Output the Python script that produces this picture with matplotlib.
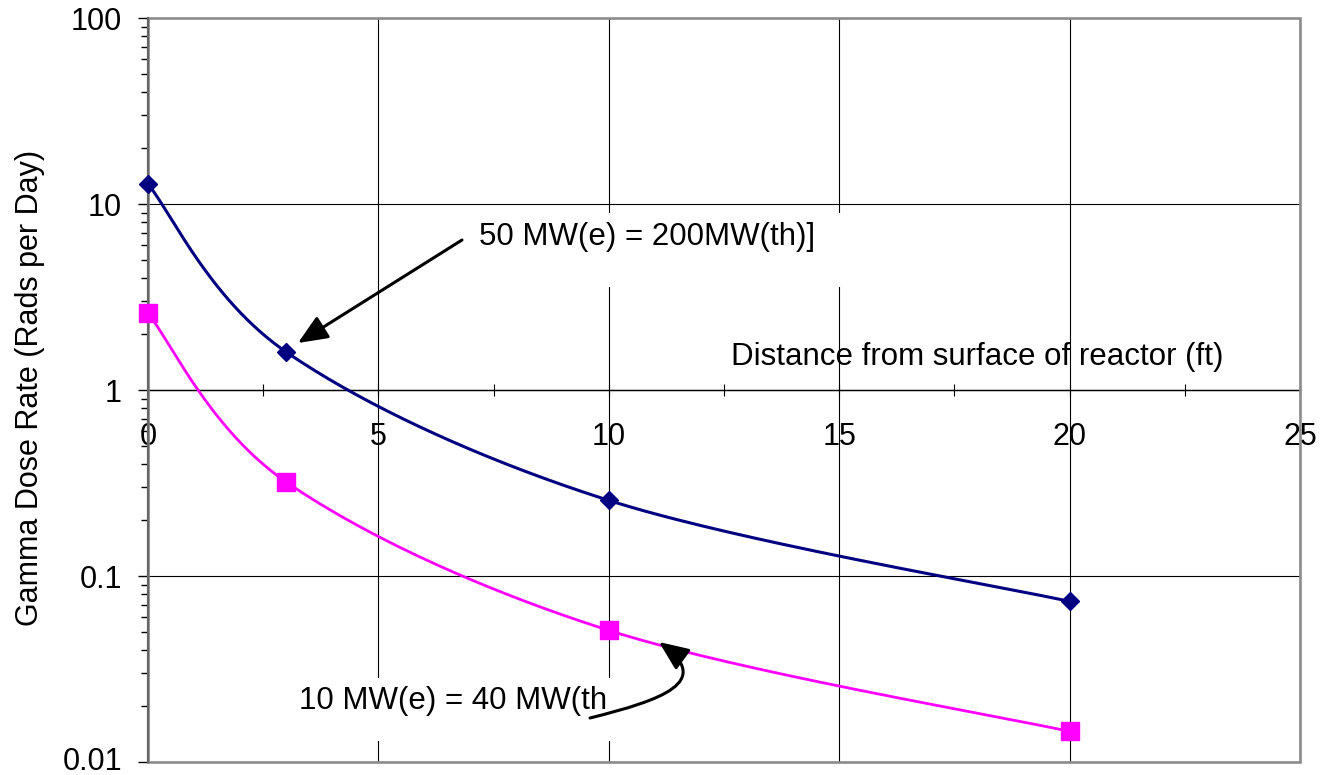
import numpy as np
import matplotlib
matplotlib.use("Agg")
import matplotlib.pyplot as plt
from matplotlib.patches import Rectangle, FancyArrowPatch
from matplotlib.path import Path
from matplotlib.transforms import ScaledTranslation
from matplotlib.ticker import MultipleLocator, LogLocator, FixedLocator, FixedFormatter

plt.rcParams['font.family'] = ['Liberation Sans', 'DejaVu Sans']

# ---- data ----
distance_ft = [0, 3, 10, 20]
dose_50mwe = [12.8, 1.6, 0.255, 0.073]     # 50 MW(e) = 200 MW(th)
dose_10mwe = [2.58, 0.32, 0.051, 0.0146]   # 10 MW(e) = 40 MW(th)
x_ticks = [0, 5, 10, 15, 20, 25]
y_ticks = [0.01, 0.1, 1, 10, 100]
y_tick_labels = ["0.01", "0.1", "1", "10", "100"]
label_50 = "50 MW(e) = 200MW(th)]"
label_10 = "10 MW(e) = 40 MW(th"
x_title = "Distance from surface of reactor (ft)"
y_title = "Gamma Dose Rate (Rads per Day)"

NAVY = "#000080"
MAGENTA = "#FF00FF"
FS_TICK = 22
FS_TEXT = 22.5
FS_YLAB = 22

W, H = 1329, 775
L, R, T, B = 148, 1300, 18, 762


def px2ax(x, y):
    return ((x - L) / (R - L), (B - y) / (B - T))


def excel_smooth(xs, ys, n=60):
    """Excel-style smoothed line (cardinal Bezier) in x / log10(y) space."""
    p = np.column_stack([np.asarray(xs, float), np.log10(ys)])
    out = []
    m = len(p)
    t = np.linspace(0, 1, n)[:, None]
    for i in range(m - 1):
        p0, p3 = p[i], p[i + 1]
        pm = p[i - 1] if i > 0 else p[i]
        pp = p[i + 2] if i + 2 < m else p[i + 1]
        c1 = p0 + (p3 - pm) / 6.0
        c2 = p3 - (pp - p0) / 6.0
        seg = ((1 - t) ** 3) * p0 + 3 * ((1 - t) ** 2) * t * c1 + 3 * (1 - t) * t ** 2 * c2 + t ** 3 * p3
        out.append(seg if i == 0 else seg[1:])
    arr = np.vstack(out)
    return arr[:, 0], 10 ** arr[:, 1]


fig = plt.figure(figsize=(W / 100, H / 100), dpi=100)
ax = fig.add_axes([L / W, 1 - B / H, (R - L) / W, (B - T) / H])

ax.set_yscale('log')
ax.set_xlim(0, 25)
ax.set_ylim(0.01, 100)

# grid / ticks
ax.xaxis.set_major_locator(FixedLocator(x_ticks))
ax.xaxis.set_minor_locator(MultipleLocator(2.5))
ax.yaxis.set_major_locator(FixedLocator(y_ticks))
ax.yaxis.set_major_formatter(FixedFormatter(y_tick_labels))
ax.yaxis.set_minor_locator(LogLocator(base=10, subs=np.arange(2, 10)))
ax.yaxis.set_minor_formatter(plt.NullFormatter())
ax.grid(True, which='major', color='black', lw=0.8, zorder=0.5)
ax.set_axisbelow(True)

# spines
for s in ['top', 'right']:
    ax.spines[s].set_visible(False)
ax.spines['bottom'].set_position(('data', 1))
ax.spines['bottom'].set_color('black')
ax.spines['bottom'].set_linewidth(1.0)
ax.spines['bottom'].set_zorder(2)
ax.spines['left'].set_color('#666666')
ax.spines['left'].set_linewidth(1.6)

# plot-area border
ax.add_patch(Rectangle((0, 0), 1, 1, transform=ax.transAxes, fill=False,
                       edgecolor='#8c8c8c', lw=1.9, zorder=2.5, clip_on=False))

ax.tick_params(axis='x', which='both', direction='inout', color='black',
               labelsize=FS_TICK, pad=19, length=8.6, width=0.8)
ax.tick_params(axis='y', which='major', direction='out', length=7.2, width=1.0,
               color='black', labelsize=FS_TICK, pad=11.5)
ax.tick_params(axis='y', which='minor', direction='out', length=5.0, width=1.0,
               color='black')

# nudge the lowest y tick label slightly up so it stays inside the figure
_ticks = ax.yaxis.get_major_ticks(len(y_ticks))
_lab = _ticks[0].label1
_lab.set_transform(_lab.get_transform() + ScaledTranslation(0, 2.5 / 72, fig.dpi_scale_trans))

# white boxes behind annotation texts
x0, y0 = px2ax(466, 287)
x1, y1 = px2ax(860, 213)
ax.add_patch(Rectangle((x0, y0), x1 - x0, y1 - y0, transform=ax.transAxes,
                       facecolor='white', edgecolor='none', zorder=1))
x0, y0 = px2ax(290, 741)
x1, y1 = px2ax(620, 678)
ax.add_patch(Rectangle((x0, y0), x1 - x0, y1 - y0, transform=ax.transAxes,
                       facecolor='white', edgecolor='none', zorder=1))

# series
sx, sy = excel_smooth(distance_ft, dose_50mwe)
ax.plot(sx, sy, color=NAVY, lw=2.2, zorder=3, clip_on=False)
ax.plot(distance_ft, dose_50mwe, ls='none', marker='D', ms=9.6, color=NAVY,
        mec=NAVY, mew=1, zorder=4, clip_on=False)

sx, sy = excel_smooth(distance_ft, dose_10mwe)
ax.plot(sx, sy, color=MAGENTA, lw=2.0, zorder=3, clip_on=False)
ax.plot(distance_ft, dose_10mwe, ls='none', marker='s', ms=12.5, color=MAGENTA,
        mec=MAGENTA, mew=1, zorder=4, clip_on=False)

# axis titles
ax.set_xlabel(x_title, fontsize=FS_TEXT)
ax.xaxis.label.set_va('center')
ax.xaxis.label.set_ha('center')
ax.xaxis.set_label_coords(*px2ax(977, 357))
ax.set_ylabel(y_title, fontsize=FS_YLAB)
ax.yaxis.set_label_coords((30 - L) / (R - L), px2ax(0, 388)[1])
ax.yaxis.label.set_va('center')

# annotations
ax.text(*px2ax(479, 237), label_50, transform=ax.transAxes,
        fontsize=FS_TEXT, ha='left', va='center', zorder=5)
ax.text(*px2ax(299, 701), label_10, transform=ax.transAxes,
        fontsize=FS_TEXT, ha='left', va='center', zorder=5)

arrow_style = '-|>,head_length=0.75,head_width=0.32'
a1 = FancyArrowPatch(px2ax(462, 240), px2ax(298, 343), transform=ax.transAxes,
                     arrowstyle=arrow_style, mutation_scale=24, color='black',
                     lw=2.2, shrinkA=0, shrinkB=0, zorder=5)
ax.add_patch(a1)

curve = Path([px2ax(590, 718), px2ax(662, 700), px2ax(714, 682), px2ax(659, 642)],
             [Path.MOVETO, Path.CURVE4, Path.CURVE4, Path.CURVE4])
a2 = FancyArrowPatch(path=curve, transform=ax.transAxes, arrowstyle=arrow_style,
                     mutation_scale=24, color='black', lw=2.2, zorder=5)
ax.add_patch(a2)

fig.savefig('out.png', dpi=100, facecolor='white')
